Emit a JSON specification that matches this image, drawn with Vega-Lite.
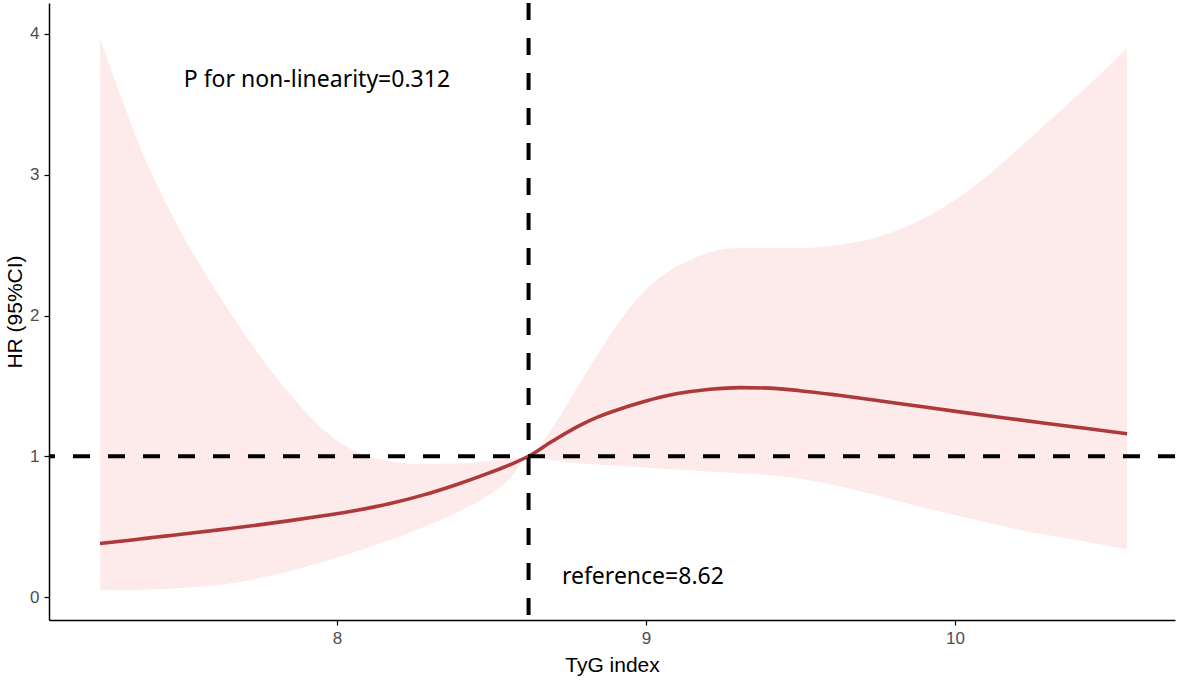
{
  "$schema": "https://vega.github.io/schema/vega-lite/v6.json",
  "autosize": {"type": "none"},
  "width": 1126,
  "height": 617,
  "padding": {"left": 49, "top": 3, "right": 6, "bottom": 63},
  "background": "white",
  "config": {
    "view": {"stroke": null},
    "axis": {
      "grid": false,
      "domainColor": "black",
      "domainWidth": 1.5,
      "tickColor": "black",
      "tickWidth": 1.2,
      "tickSize": 5,
      "labelFont": "Liberation Sans",
      "labelFontSize": 17,
      "labelColor": "#4d4d4d",
      "titleFont": "Liberation Sans",
      "titleFontSize": 21,
      "titleFontWeight": "normal",
      "titleColor": "black"
    }
  },
  "datasets": {
    "curve": [
      {"x": 7.233, "hr": 0.380, "lower": 0.050, "upper": 3.97},
      {"x": 7.307, "hr": 0.398, "lower": 0.050, "upper": 3.52},
      {"x": 7.362, "hr": 0.412, "lower": 0.052, "upper": 3.20},
      {"x": 7.417, "hr": 0.426, "lower": 0.055, "upper": 2.93},
      {"x": 7.469, "hr": 0.439, "lower": 0.060, "upper": 2.70},
      {"x": 7.524, "hr": 0.453, "lower": 0.067, "upper": 2.48},
      {"x": 7.631, "hr": 0.481, "lower": 0.090, "upper": 2.10},
      {"x": 7.741, "hr": 0.511, "lower": 0.130, "upper": 1.74},
      {"x": 7.848, "hr": 0.543, "lower": 0.185, "upper": 1.44},
      {"x": 7.955, "hr": 0.577, "lower": 0.250, "upper": 1.19},
      {"x": 8.065, "hr": 0.616, "lower": 0.325, "upper": 1.03},
      {"x": 8.172, "hr": 0.664, "lower": 0.405, "upper": 0.965},
      {"x": 8.278, "hr": 0.724, "lower": 0.495, "upper": 0.945},
      {"x": 8.388, "hr": 0.800, "lower": 0.600, "upper": 0.948},
      {"x": 8.495, "hr": 0.884, "lower": 0.730, "upper": 0.968},
      {"x": 8.560, "hr": 0.940, "lower": 0.840, "upper": 0.984},
      {"x": 8.620, "hr": 1.000, "lower": 1.000, "upper": 1.00},
      {"x": 8.699, "hr": 1.110, "lower": 0.970, "upper": 1.21},
      {"x": 8.786, "hr": 1.220, "lower": 0.950, "upper": 1.52},
      {"x": 8.851, "hr": 1.285, "lower": 0.940, "upper": 1.75},
      {"x": 8.935, "hr": 1.350, "lower": 0.930, "upper": 2.02},
      {"x": 9.003, "hr": 1.395, "lower": 0.920, "upper": 2.19},
      {"x": 9.071, "hr": 1.432, "lower": 0.910, "upper": 2.31},
      {"x": 9.139, "hr": 1.458, "lower": 0.900, "upper": 2.39},
      {"x": 9.207, "hr": 1.476, "lower": 0.890, "upper": 2.45},
      {"x": 9.304, "hr": 1.488, "lower": 0.880, "upper": 2.48},
      {"x": 9.401, "hr": 1.484, "lower": 0.865, "upper": 2.48},
      {"x": 9.498, "hr": 1.466, "lower": 0.840, "upper": 2.48},
      {"x": 9.618, "hr": 1.435, "lower": 0.790, "upper": 2.50},
      {"x": 9.754, "hr": 1.395, "lower": 0.720, "upper": 2.56},
      {"x": 9.890, "hr": 1.353, "lower": 0.640, "upper": 2.68},
      {"x": 10.026, "hr": 1.312, "lower": 0.570, "upper": 2.86},
      {"x": 10.162, "hr": 1.272, "lower": 0.500, "upper": 3.10},
      {"x": 10.298, "hr": 1.233, "lower": 0.440, "upper": 3.37},
      {"x": 10.434, "hr": 1.195, "lower": 0.390, "upper": 3.64},
      {"x": 10.557, "hr": 1.160, "lower": 0.340, "upper": 3.90}
    ],
    "labels": [
      {"x": 7.935, "y": 3.67, "label": "P for non-linearity=0.312"},
      {"x": 8.99, "y": 0.145, "label": "reference=8.62"}
    ]
  },
  "layer": [
    {
      "data": {"name": "curve"},
      "mark": {"type": "area", "color": "#fdeaeb", "opacity": 1, "interpolate": "monotone"},
      "encoding": {
        "x": {
          "field": "x",
          "type": "quantitative",
          "title": "TyG index",
          "scale": {"domain": [7.068, 10.712], "nice": false, "zero": false},
          "axis": {"values": [8, 9, 10], "format": "d", "labelPadding": 5, "titlePadding": 8}
        },
        "y": {
          "field": "lower",
          "type": "quantitative",
          "title": "HR (95%CI)",
          "scale": {"domain": [-0.163, 4.22], "nice": false, "zero": false},
          "axis": {"values": [0, 1, 2, 3, 4], "format": "d", "labelPadding": 5, "titlePadding": 4}
        },
        "y2": {"field": "upper"}
      }
    },
    {
      "data": {"name": "curve"},
      "mark": {"type": "line", "color": "#ad393b", "strokeWidth": 3.6, "interpolate": "monotone"},
      "encoding": {
        "x": {"field": "x", "type": "quantitative"},
        "y": {"field": "hr", "type": "quantitative"}
      }
    },
    {
      "data": {"values": [{"ref": 1}]},
      "mark": {"type": "rule", "color": "black", "strokeWidth": 4, "strokeDash": [17, 18]},
      "encoding": {
        "y": {"field": "ref", "type": "quantitative"}
      }
    },
    {
      "data": {"values": [{"ref": 8.62}]},
      "mark": {"type": "rule", "color": "black", "strokeWidth": 4, "strokeDash": [17, 18]},
      "encoding": {
        "x": {"field": "ref", "type": "quantitative"}
      }
    },
    {
      "data": {"name": "labels"},
      "mark": {"type": "text", "font": "Noto Sans", "fontSize": 23, "color": "black", "align": "center", "baseline": "middle"},
      "encoding": {
        "x": {"field": "x", "type": "quantitative"},
        "y": {"field": "y", "type": "quantitative"},
        "text": {"field": "label"}
      }
    }
  ]
}
